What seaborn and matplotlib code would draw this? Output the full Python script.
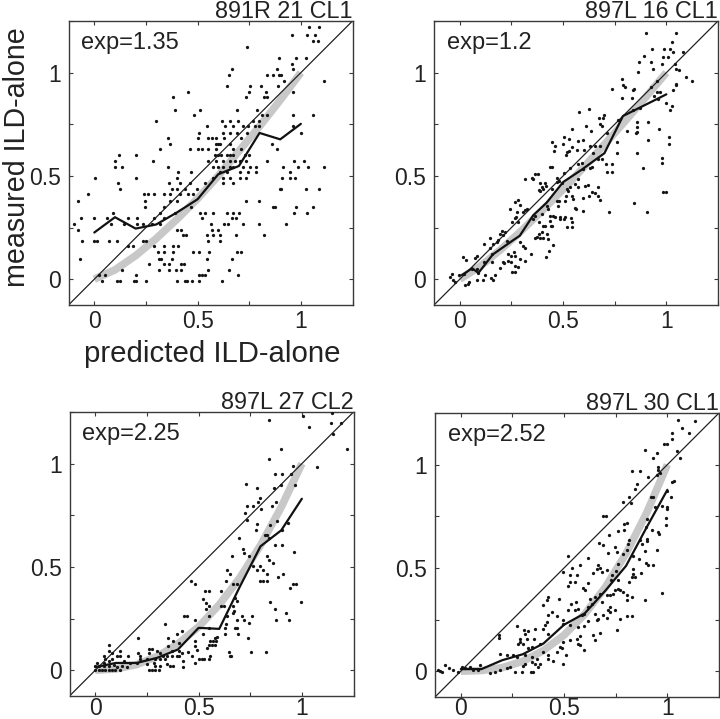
import numpy as np
import pandas as pd
import matplotlib
matplotlib.use("Agg")
import matplotlib.pyplot as plt
import seaborn as sns

sns.set_style("white")
plt.rcParams['font.family'] = ['Liberation Sans', 'DejaVu Sans']

titles = ["891R 21 CL1", "897L 16 CL1", "897L 27 CL2", "897L 30 CL1"]
exps = ["exp=1.35", "exp=1.2", "exp=2.25", "exp=2.52"]
tick_vals = [0, 0.25, 0.5, 0.75, 1, 1.25]
tick_text = ["0", "", "0.5", "", "1", ""]
diag = [-0.125, 1.25]

# mean (black) lines
line_x = [0, .1, .2, .3, .4, .5, .6, .7, .8, .9, 1.0]
line1 = [.226, .30, .245, .265, .323, .387, .508, .548, .708, .677, .752]
line2_x = [.01, .06, .09, .16, .26, .29, .356, .42, .5, .59, .7, .79, .9, 1.0]
line2 = [.02, .053, .03, .12, .19, .21, .31, .37, .47, .53, .61, .79, .845, .895]
line3 = [.015, .035, .035, .06, .10, .205, .20, .405, .60, .677, .83]
line4 = [.01, .01, .053, .082, .134, .225, .28, .39, .51, .697, .878]

# grey model curves
grey_x = [0, .1, .2, .3, .4, .5, .6, .7, .8, .9, 1.0]
grey1 = [0.0, .045, .114, .197, .29, .39, .50, .62, .74, .867, 1.0]
grey2 = [0.0, .063, .145, .236, .333, .435, .542, .652, .765, .881, 1.0]
grey3 = [0.0, .006, .027, .067, .127, .21, .317, .448, .605, .789, 1.0]
grey4 = [0.0, .003, .017, .048, .10, .175, .276, .407, .57, .767, 1.0]

# panel 1 scatter, rows of quantised y values
rows1 = [
 (1.22,[1.04,1.09]),(1.18,[.955,1.03,1.07]),(1.155,[1.06,1.085]),(1.125,[.74]),(1.07,[.895,.975,1.025]),
 (1.04,[.955]),(1.02,[.665,.885,.96]),(.99,[.65,.835,.865,.895,.905]),(.96,[.92,1.11]),(.935,[.64,.755,.805,.89]),
 (.905,[.455,.75,.83,.96]),(.88,[.38,.735,.82,.835]),(.82,[.39,.51,.69,.79]),(.795,[.485,.81,.835,.96,1.06]),
 (.765,[.30,.62,.655,.695,.77,.795]),(.74,[.545,.635,.67,.72,.745,.78,.795,.96]),(.71,[.505,.625,.655,.69,.74,1.0]),
 (.685,[.355,.50,.55,.57,.59,.63,.71]),(.655,[.365,.59,.60,.61,.655,.86]),
 (.63,[.32,.465,.50,.52,.55,.59,.67,.71,.885]),(.60,[.12,.20,.585,.60,.615,.64,.655,.67,.73,.75]),
 (.57,[.10,.285,.55,.59,.625,.655,.68,.705,.735,.835,.965,1.015]),
 (.545,[.10,.135,.355,.575,.60,.625,.655,.67,.72,.755,.785,.915,.985,1.035,1.11]),
 (.52,[.405,.47,.61,.64,.705,.745,.785,.945]),(.49,[.005,.20,.40,.575,.625,.655,.705,.735,.91,.945,.97]),
 (.465,[.115,.36,.415,.465,.535,.625,.67]),(.435,[.125,.375,.40,.44,.495,.90,.905,1.025,1.09]),
 (.41,[-.03,.24,.26,.29,.335,.365,.415,.455,.48]),(.38,[-.08,.245,.365,.40,.735,.795]),
 (.35,[.245,.335,.47,.865,.875,.975,1.06]),(.32,[.09,.32,.39,.51,.535,.575,.64,.67,.70,.965,1.03]),
 (.295,[-.065,0,.06,.165,.205,.29,.335,.52,.665,.685]),
 (.265,[-.10,.08,.145,.205,.235,.28,.32,.565,.63,.645,.72,.795,.93]),(.24,[-.08,.40,.42,.57,.60]),
 (.215,[.43,.445,.545,.575,.61,.685,.82]),(.185,[-.06,0,.015,.07,.11,.235,.25,.55,.61]),
 (.16,[.165,.185,.29,.335,.38,.405]),(.13,[.31,.335,.38,.48,.505,.555,.69,.71]),
 (.10,[-.07,.315,.325,.375,.545,.665]),(.075,[.265,.335,.36,.42,.435]),(.045,[.135,.315,.36,.395,.42,.55,.65]),
 (.02,[.025,.05,.20,.505,.52,.535,.695]),(-.01,[.035,.11,.125,.19,.20,.25,.40,.44,.45,.475,.505,.62]),
]

pts2 = [(.90,1.19),(1.047,1.19),(1.026,1.148),(.93,1.114),(.99,1.114),(1.02,1.114),(1.03,1.10),(1.08,1.10),(.893,1.08),(.985,1.075),(1.01,1.075),(.868,1.05),(.926,1.05),(.977,1.04),(.937,1.02),(1.04,1.04),(1.047,1.02),(1.063,1.015),(.861,1.005),(1.095,.977),(1.122,.96),(.784,.97),(.789,.942),(.80,.93),(.737,.923),(.845,.923),(.84,.915),(.787,.878),(.835,.878),(.953,.958),(.924,.93),(1.047,.947),(1.047,.94),(1.03,.915),(.953,.905),(.97,.905),(.94,.889),(.961,.873),(1.0,.854),(1.026,.84),(1.018,.82),(.873,.828),(.84,.82),
(.627,.826),(.576,.807),(.698,.797),(.676,.781),(.695,.778),(.611,.744),(.679,.749),(.687,.741),(.768,.77),(.86,.76),(.913,.76),(.856,.738),(.542,.725),(.808,.717),(.86,.712),(.853,.706),(.966,.725),(.634,.717),(.711,.709),
(1.015,.69),(.913,.672),(.76,.664),(1.015,.653),(.445,.665),(.461,.645),(.498,.653),(.456,.619),(.529,.677),(.574,.669),(.595,.672),(.542,.64),(.631,.645),(.655,.645),(.679,.645),(.505,.69),
(.518,.616),(.513,.60),(.531,.619),(.566,.624),(.602,.625),(.647,.613),(.76,.609),(.86,.609),(.59,.564),(.671,.58),(.687,.584),(.708,.556),(.735,.556),(.715,.519),(.739,.519),(.889,.537),(.977,.588),(.977,.564),
(.437,.545),(.445,.545),(.316,.484),(.348,.492),(.356,.484),(.365,.511),(.377,.511),(.469,.492),(.502,.513),(.534,.54),(.574,.556),(.598,.532),(.631,.54),(.639,.543),
(.389,.465),(.397,.444),(.413,.465),(.418,.452),(.389,.428),(.381,.432),(.405,.439),(.445,.439),(.469,.471),(.482,.476),(.494,.465),(.558,.46),(.574,.487),(.574,.444),(.623,.455),(.606,.449),(.671,.447),(.639,.42),(.655,.415),(.671,.404),(.626,.404),(.598,.392),(.679,.384),(.534,.444),(.518,.436),(.526,.428),(.542,.404),(.55,.387),(.515,.404),
(.724,.323),(.845,.367),(.908,.323),(.982,.42),(1.0,.42),(.598,.331),(.558,.347),(.563,.339),
(.284,.383),(.268,.376),(.292,.36),(.244,.339),(.324,.339),(.308,.323),(.365,.307),(.316,.336),(.276,.323),(.273,.302),(.265,.294),(.284,.275),(.252,.275),
(.421,.355),(.429,.342),(.437,.307),(.453,.307),(.469,.379),(.482,.379),(.477,.355),(.51,.379),(.461,.299),(.486,.299),(.51,.299),(.537,.294),(.502,.291),(.542,.275),(.518,.251),(.545,.251),(.486,.291),
(.356,.291),(.397,.315),(.381,.275),(.402,.259),(.413,.259),(.437,.283),(.448,.259),(.44,.259),(.397,.227),(.381,.219),(.365,.198),(.373,.203),(.389,.198),(.405,.198),(.421,.219),(.429,.195),(.453,.167),(.432,.138),(.416,.106),
(.203,.235),(.195,.219),(.211,.214),(.219,.227),(.187,.191),(.227,.186),(.144,.198),(.119,.17),(.163,.17),(.147,.15),(.179,.178),(.292,.178),(.308,.162),(.316,.15),(.344,.122),(.316,.09),(.292,.098),(.26,.13),(.268,.114),(.235,.122),(.247,.114),(.235,.09),(.211,.082),(.216,.077),(.247,.082),(.268,.066),(.284,.058),(.255,.034),(.268,.034),(.195,.053),
(.013,.106),(.029,.093),(.085,.114),(.074,.101),(.115,.082),(.155,.082),(.155,.122),
(-.039,.026),(-.047,.01),(-.034,-.006),(-.023,-.014),(-.006,.018),(.018,.026),(.023,-.027),(.045,-.014),(.042,-.023),(.058,.05),(.082,.05),(.082,-.003),(.111,-.003),(.123,.018),(.15,.005),(.163,-.003),(.171,.018),(.09,.031)]

pts3 = [(1.006,1.232),(1.148,1.245),(.842,1.211),(1.035,1.176),(1.14,1.195),(1.188,1.197),(1.151,1.144),(1.219,1.073),(.897,1.073),(.839,1.021),(1.074,.985),(.958,.987),(.87,.95),(.902,.95),(.945,.95),(.728,.9),(.785,.882),(.865,.882),(.897,.898),(.966,.898),(.797,.834),(.789,.813),(.874,.815),(.853,.794),(.733,.794),(.762,.794),(.8,.781),(.725,.761),(.733,.729),(.781,.71),(.845,.705),(.881,.721),(.934,.713),(.778,.677),(.821,.656),(.833,.656),(.842,.64),(.902,.677),(.696,.64),(.87,.608),(.902,.608),(.961,.571),(.713,.589),(.72,.568),(.663,.552),(.746,.552),(.829,.555),(.842,.535),(.862,.519),(.765,.503),(.797,.503),(.784,.484),(.81,.487),(.829,.468),(.636,.487),(.652,.468),(.91,.468),(.886,.45),(.797,.434),(.81,.434),(.829,.434),(.633,.434),(.462,.434),(.483,.415),(.668,.418),(.684,.418),(.958,.415),(.974,.415),(.942,.398),(.531,.382),(.552,.382),(.609,.382),(.523,.347),(.676,.35),(.684,.334),(.845,.329),(.998,.329),(.535,.326),(.548,.31),(.607,.313),(.623,.313),(.668,.31),(.87,.294),(.536,.294),(.921,.277),(.673,.285),(.668,.277),(.636,.261),(.427,.261),(.446,.261),(.757,.261),(.712,.261),(.72,.242),(.688,.242),(.873,.242),(.937,.242),(.483,.242),(.552,.261),(.338,.226),(.419,.189),(.744,.229),(.631,.226),(.628,.205),(.676,.205),(.684,.205),(.552,.205),(.741,.156),(.588,.161),(.63,.173),(.689,.173),(.205,.156),(.395,.173),(.523,.177),(.354,.156),(.378,.14),(.403,.132),(.485,.14),(.485,.116),(.58,.156),(.556,.14),(.572,.14),(.585,.14),(.548,.124),(.564,.121),(.58,.121),(.539,.105),(.491,.097),(.451,.089),(.752,.087),(.826,.087),(.647,.087),(.652,.068),(.657,.068),(.556,.068),(.548,.052),(.528,.052),(.515,.052),(.504,.052),(.467,.068),(.483,.035),(.424,.016),(.424,.044),(.403,.068),(.419,.084),(.403,.092),
(.068,.121),(.068,.092),(.04,.068),(.081,.084),(.121,.092),(.121,.068),(.156,.068),(.205,.084),(.217,.068),(.258,.103),(.274,.103),(.258,.084),(.298,.092),(.314,.084),(.354,.116),(.33,.068),(.37,.092),(.217,.052),(.25,.052),(.29,.052),(.314,.052),(.346,.068),(.37,.068),(.395,.068),(.346,.032),(.362,.019),(.378,.019),(.314,.019),(.29,.019),(.258,0),(.274,0),(.29,0),(.306,0),(.338,.052),(.282,.035),(.25,.032),(.201,.035),(.169,.035),(.153,.016),(.129,.019),(.105,.016),(.121,0),(.097,0),(.081,0),(.064,0),(.048,0),(.032,0),(.016,0),(0,0),(0,.019),(.016,.019),(.04,.019),(.064,.019),(.089,.027),(.04,.035),(.064,.044),(.081,.052),(.048,.052),(.008,.035),(.105,.068),(.137,.044)]

pts4 = [(1.05,1.217),(1.134,1.209),(1.073,1.175),(1.103,1.151),(1.021,1.151),(1.024,1.124),(.985,1.098),(1.0,1.098),(.892,1.072),(.952,1.056),(1.045,1.064),(.929,1.032),(1.061,1.032),(.956,.987),(.956,.976),(.831,.971),(.868,.971),(.908,.939),(.948,.95),(.965,.958),(1.032,.923),(1.021,.915),(.855,.907),(.844,.882),(.997,.874),(.816,.845),(.787,.818),(.823,.813),(.919,.842),(.929,.842),(1.016,.842),(.94,.797),(.973,.802),(.997,.794),(1.0,.786),(.69,.75),(.703,.75),(.792,.713),(.803,.718),(.992,.742),(.992,.709),(.9,.737),(.895,.697),(.763,.681),(.79,.684),(.719,.657),(.927,.684),(.961,.665),(.956,.673),(.671,.622),(.815,.633),(.808,.617),(.868,.633),(.902,.641),(.902,.628),(.879,.617),(.69,.609),(.747,.601),(.715,.572),(.755,.576),(.803,.585),(.787,.565),(.892,.581),(.952,.589),(.521,.557),(.618,.548),(.863,.541),(.835,.56),(.897,.523),(.932,.515),(.908,.515),(.763,.52),(.579,.515),(.537,.501),(.666,.512),(.658,.496),(.674,.499),(.682,.48),(.706,.491),(.497,.48),(.529,.467),(.561,.464),(.642,.475),(.752,.485),(.835,.493),(.832,.472),(.844,.456),(.827,.456),(.871,.475),(.734,.464),(.726,.44),(.763,.44),(.816,.432),(.529,.432),(.618,.427),(.518,.412),(.553,.432),(.59,.404),(.602,.395),(.763,.399),(.771,.391),(.787,.383),(.803,.367),(.973,.378),(.739,.375),(.747,.391),(.674,.375),(.706,.367),(.723,.367),(.65,.359),(.626,.351),(.827,.359),(.424,.359),(.416,.343),(.397,.319),(.477,.351),(.532,.327),(.556,.335),(.892,.343),(.803,.343),(.682,.335),(.634,.327),(.618,.311),(.723,.311),(.715,.295),(.747,.295),(.723,.287),(.521,.295),(.553,.295),(.565,.3),(.44,.287),(.424,.271),(.465,.266),(.585,.271),(.597,.279),(.65,.279),(.69,.271),(.803,.267),(.831,.267),(.706,.259),(.771,.254),(.666,.254),(.658,.246),(.618,.243),(.416,.238),(.408,.225),(.494,.25),(.497,.23),(.529,.222),(.271,.217),(.36,.206),(.4,.206),(.306,.198),(.323,.195),(.569,.214),(.594,.217),(.639,.177),(.674,.185),(.755,.201),(.424,.182),(.311,.179),(.319,.158),(.352,.158),(.287,.158),(.287,.142),(.65,.15),(.185,.174),(.185,.163),(.577,.169),(.561,.158),(.279,.13),(.303,.134),(.344,.118),(.327,.11),(.384,.134),(.529,.15),(.569,.134),(.577,.126),(.594,.101),(.497,.142),(.481,.118),(.465,.093),(.489,.11),(.508,.077),(.497,.037),(.4,.093),(.424,.077),(.424,.061),(.448,.048),(.19,.081),(.226,.077),(.255,.077),(.271,.069),(.311,.077),(.344,.069),(.368,.061),(.384,.037),(.376,.021),(.311,.037),(.303,.024),(.344,.045),(.36,.037),(.239,.021),(.263,-.003),(.295,-.003),(.339,-.003),(.348,-.003),(.223,.013),(.19,.005),(.166,-.003),(.142,-.011),(-.1,.002),(-.092,-.003),(-.079,.032),(-.111,.005),(-.055,.013),(-.039,.005),(-.016,-.003),(.021,.013),(.045,.021),(.061,.005),(.094,.029),(.081,.005),(.005,.018)]

pts1 = [(x, y) for y, xs in rows1 for x in xs]
scatters = [pts1, pts2, pts3, pts4]
lines = [(line_x, line1), (line2_x, line2), (line_x, line3), (line_x, line4)]
greys = [grey1, grey2, grey3, grey4]
x_pads = [3.5, 3.5, 1.0, 0.2]

W, H = 720, 719
boxes = [(68.5, 21, 284, 284), (434, 21, 284, 284), (69.5, 412, 284, 284), (435, 413, 284, 284)]

fig = plt.figure(figsize=(W / 100, H / 100), dpi=100)
edge = "#3a3a3a"
for i, (l, t, w, h) in enumerate(boxes):
    ax = fig.add_axes([l / W, 1 - (t + h) / H, w / W, h / H])
    sns.lineplot(x=grey_x, y=greys[i], ax=ax, color="#c8c8c8", linewidth=5.5,
                 estimator=None, sort=False, zorder=1, solid_capstyle="butt",
                 solid_joinstyle="round")
    sns.lineplot(x=diag, y=diag, ax=ax, color="#222222", linewidth=0.9,
                 estimator=None, sort=False, zorder=2)
    d = pd.DataFrame(scatters[i], columns=["x", "y"])
    sns.scatterplot(data=d, x="x", y="y", ax=ax, color="#151515", s=5.5, linewidth=0,
                    marker="o", zorder=3)
    sns.lineplot(x=lines[i][0], y=lines[i][1], ax=ax, color="#111111", linewidth=1.6,
                 estimator=None, sort=False, zorder=4)
    ax.set_xlim(diag)
    ax.set_ylim(diag)
    ax.set_xticks(tick_vals)
    ax.set_yticks(tick_vals)
    ax.set_xticklabels(tick_text, fontsize=16.5, color="#222222")
    ax.set_yticklabels(tick_text, fontsize=16.5, color="#222222")
    ax.tick_params(axis="both", direction="in", length=3, width=0.8, color=edge,
                   top=True, right=True, bottom=True, left=True)
    ax.tick_params(axis="x", pad=x_pads[i])
    ax.tick_params(axis="y", pad=5.5)
    ax.set_xlabel("")
    ax.set_ylabel("")
    for s in ax.spines.values():
        s.set_visible(True)
        s.set_color(edge)
        s.set_linewidth(1.0)
    ax.set_title(titles[i], fontsize=16.8, loc="right", pad=2, color="#222222")
    ax.text(0.045, 0.96, exps[i], transform=ax.transAxes, fontsize=17, va="top", ha="left",
            color="#222222")
    if i == 0:
        ax.set_xlabel("predicted ILD-alone", fontsize=21.2, color="#222222")
        ax.xaxis.set_label_coords(0.505, -0.125)
        ax.set_ylabel("measured ILD-alone", fontsize=20.6, color="#222222")
        ax.yaxis.set_label_coords(-0.132, 0.519)

fig.savefig("out.png", dpi=100)
